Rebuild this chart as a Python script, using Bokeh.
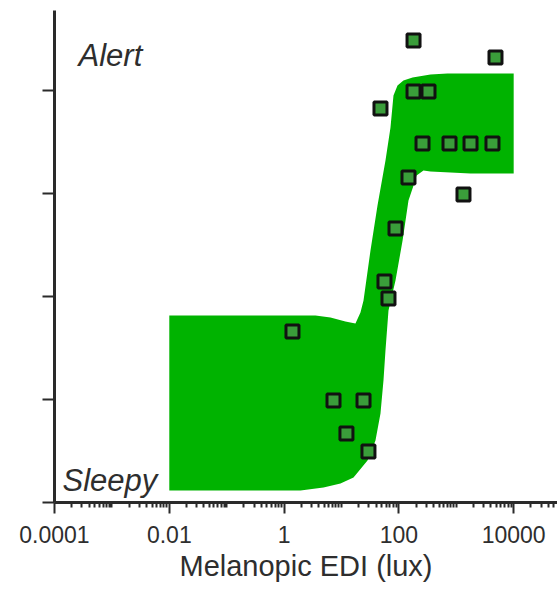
from bokeh.plotting import figure
from bokeh.models import FixedTicker, Label, Range1d
from bokeh.embed import file_html
from bokeh.resources import INLINE

# measured points (lux, alertness score)
lux = [1.40, 7.26, 24.2, 12.2, 29.5, 65.9, 56.1, 87.3, 147, 47.8,
       180, 180, 328, 258, 762, 1770, 4270, 1335, 4820]
score = [1.66, 0.99, 0.99, 0.67, 0.495, 1.98, 2.146, 2.66, 3.155, 3.825,
         4.485, 3.99, 3.99, 3.485, 3.485, 3.485, 3.485, 2.99, 4.32]

# confidence band: upper edge (left -> right)
band_upper_lux = [0.01, 3.52, 6.43, 11.7, 17.5, 21.4, 24.2, 32.0, 42.4, 58.4,
                  71.4, 80.5, 94.6, 120, 173, 355, 703, 10000]
band_upper_score = [1.816, 1.816, 1.796, 1.757, 1.738, 1.845, 1.961, 2.447, 2.883, 3.320,
                    3.641, 3.951, 4.049, 4.097, 4.126, 4.155, 4.165, 4.165]
# lower edge (right -> left)
band_lower_lux = [10000, 1770, 792, 355, 268, 203, 180, 147, 116, 87.3, 65.9, 58.4,
                  53.9, 47.8, 39.1, 28.4, 16.2, 9.6, 4.86, 1.93, 0.01]
band_lower_score = [3.194, 3.194, 3.204, 3.214, 3.223, 3.175, 3.078, 2.932, 2.544, 2.155, 1.864, 1.476,
                    1.184, 0.864, 0.602, 0.408, 0.243, 0.184, 0.146, 0.117, 0.117]

x_major = [1e-4, 1e-2, 1, 1e2, 1e4]
x_labels = {1e-4: "0.0001", 1e-2: "0.01", 1: "1", 1e2: "100", 1e4: "10000"}
y_major = [0, 1, 2, 3, 4]

FONT = "Liberation Sans"
TXT = "#2e2e2e"

p = figure(width=557, height=591, x_axis_type="log",
           x_range=Range1d(1e-4, 5.8e4), y_range=Range1d(0, 4.777),
           output_backend="svg", toolbar_location=None,
           min_border_left=54, min_border_right=0, min_border_top=10, min_border_bottom=89)
p.outline_line_color = None
p.xgrid.visible = False
p.ygrid.visible = False
p.background_fill_color = "white"
p.border_fill_color = "white"

p.patch(band_upper_lux + band_lower_lux, band_upper_score + band_lower_score,
        fill_color="#00b300", line_color=None)

p.scatter(lux, score, marker="square", size=13, fill_color="#3a9d3a",
          line_color="#111111", line_width=3)

minor = []
for d in range(-4, 5):
    for k in range(2, 10):
        v = k * 10.0 ** d
        if v < 5.8e4:
            minor.append(v)
    if d % 2 == 1:
        minor.append(10.0 ** d)

xa = p.xaxis[0]
xa.ticker = FixedTicker(ticks=x_major, minor_ticks=minor)
xa.major_label_overrides = x_labels
xa.major_label_text_font = FONT
xa.major_label_text_font_size = "23px"
xa.major_label_text_color = TXT
xa.major_label_standoff = 12
xa.axis_label = "Melanopic EDI (lux)"
xa.axis_label_text_font = FONT
xa.axis_label_text_font_style = "normal"
xa.axis_label_text_font_size = "29px"
xa.axis_label_text_color = TXT
xa.axis_label_standoff = 4
xa.axis_line_width = 3
xa.axis_line_color = "#2a2a2a"
xa.major_tick_line_width = 2
xa.major_tick_line_color = "#2a2a2a"
xa.major_tick_out = 11
xa.major_tick_in = 0
xa.minor_tick_line_width = 2
xa.minor_tick_line_color = "#2a2a2a"
xa.minor_tick_out = 5
xa.minor_tick_in = 0

ya = p.yaxis[0]
ya.ticker = FixedTicker(ticks=y_major, minor_ticks=[])
ya.major_label_text_font_size = "1px"
ya.major_label_text_alpha = 0
ya.axis_line_width = 3
ya.axis_line_color = "#2a2a2a"
ya.major_tick_line_width = 2
ya.major_tick_line_color = "#2a2a2a"
ya.major_tick_out = 12
ya.major_tick_in = 0

p.add_layout(Label(x=2.62e-4, y=4.34, text="Alert", text_font=FONT,
                   text_font_style="italic", text_font_size="31px",
                   text_color=TXT, text_baseline="alphabetic"))
p.add_layout(Label(x=1.38e-4, y=0.214, text="Sleepy", text_font=FONT,
                   text_font_style="italic", text_font_size="31px",
                   text_color=TXT, text_baseline="alphabetic"))

open("out.html", "w").write(file_html(p, INLINE))
